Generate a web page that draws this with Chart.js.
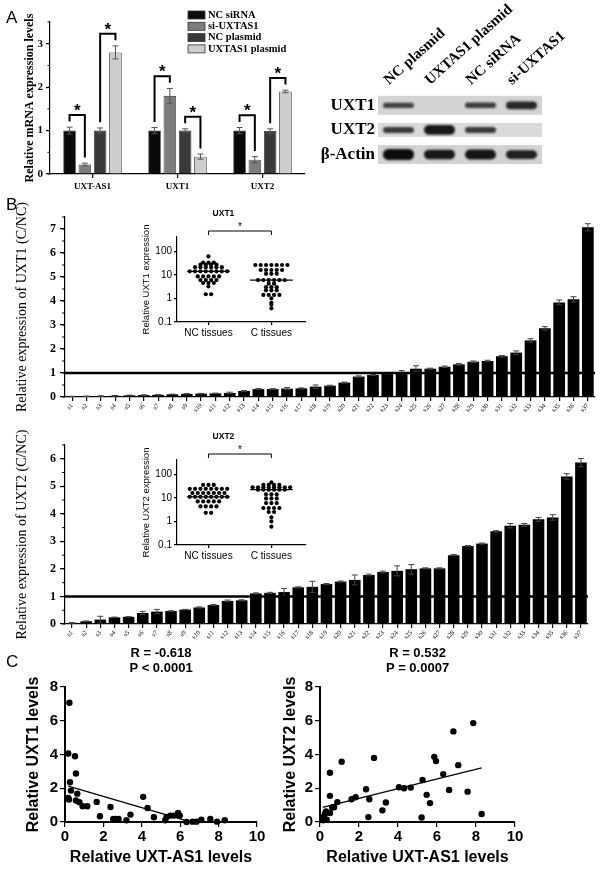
<!DOCTYPE html>
<html>
<head>
<meta charset="utf-8">
<script src="https://cdn.jsdelivr.net/npm/chart.js@4.4.1/dist/chart.umd.min.js"></script>
<style>
  body { margin: 0; background: #fff; }
  #fig { position: relative; width: 600px; height: 869px; overflow: hidden; background: #fff; }
  #fig canvas { position: absolute; }
  .tag { position: absolute; font: 17px "Liberation Sans", Arial, sans-serif; color: #000; }
</style>
</head>
<body>
<div id="fig">
  <canvas id="chartA" width="310" height="200" style="left:0;top:0"></canvas>
  <canvas id="blot" width="300" height="180" style="left:300px;top:0"></canvas>
  <canvas id="ratioUXT1" width="600" height="252" style="left:0;top:178px"></canvas>
  <canvas id="ratioUXT2" width="600" height="265" style="left:0;top:405px"></canvas>
  <canvas id="insetUXT1" width="185" height="135" style="left:130px;top:205px"></canvas>
  <canvas id="insetUXT2" width="185" height="135" style="left:130px;top:428px"></canvas>
  <canvas id="corrUXT1" width="270" height="229" style="left:0;top:640px"></canvas>
  <canvas id="corrUXT2" width="345" height="229" style="left:255px;top:640px"></canvas>
  <div class="tag" style="left:6px;top:8px">A</div>
  <div class="tag" style="left:6px;top:195px">B</div>
  <div class="tag" style="left:6px;top:652px">C</div>
</div>
<script>
// ---- panel A: qPCR after knockdown / overexpression ----
const GENES_A = ['UXT-AS1', 'UXT1', 'UXT2'];
const NC_SIRNA = [1, 1, 1];
const NC_SIRNA_ERR = [0.08, 0.07, 0.07];
const SI_UXTAS1 = [0.22, 1.8, 0.33];
const SI_UXTAS1_ERR = [0.03, 0.17, 0.07];
const NC_PLASMID = [1, 1, 0.99];
const NC_PLASMID_ERR = [0.06, 0.04, 0.05];
const UXTAS1_PLASMID = [2.8, 0.4, 1.9];
const UXTAS1_PLASMID_ERR = [0.15, 0.06, 0.03];

// ---- western blot (relative band strength per lane) ----
const LANES = ['NC plasmid', 'UXTAS1 plasmid', 'NC siRNA', 'si-UXTAS1'];
const BLOT_ROWS = ['UXT1', 'UXT2', 'β-Actin'];
const BAND_UXT1 = [0.35, 0, 0.4, 0.65];
const BAND_UXT2 = [0.45, 0.85, 0.45, 0];
const BAND_ACTIN = [1, 0.85, 0.9, 0.75];

// ---- panel B: C/NC ratio per sample ----
const SAMPLES = ['s1', 's2', 's3', 's4', 's5', 's6', 's7', 's8', 's9', 's10', 's11', 's12', 's13',
  's14', 's15', 's16', 's17', 's18', 's19', 's20', 's21', 's22', 's23', 's24', 's25', 's26',
  's27', 's28', 's29', 's30', 's31', 's32', 's33', 's34', 's35', 's36', 's37'];
const UXT1_RATIO = [0.02, 0.03, 0.04, 0.05, 0.07, 0.08, 0.09, 0.11, 0.13, 0.14, 0.15, 0.17, 0.25,
  0.33, 0.33, 0.35, 0.36, 0.43, 0.47, 0.6, 0.85, 0.92, 0.99, 1.03, 1.18, 1.18, 1.26, 1.36, 1.47,
  1.5, 1.7, 1.85, 2.36, 2.86, 3.94, 4.07, 7.07];
const UXT1_RATIO_ERR = [0.01, 0.01, 0.01, 0.01, 0.01, 0.01, 0.01, 0.01, 0.01, 0.01, 0.01, 0.03, 0.02,
  0.02, 0.02, 0.04, 0.02, 0.07, 0.02, 0.02, 0.03, 0.02, 0.02, 0.07, 0.12, 0.02, 0.03, 0.03, 0.03,
  0.03, 0.03, 0.07, 0.07, 0.07, 0.1, 0.11, 0.15];
const UXT2_RATIO = [0.04, 0.1, 0.16, 0.24, 0.26, 0.4, 0.45, 0.47, 0.52, 0.6, 0.69, 0.84, 0.86,
  1.11, 1.13, 1.16, 1.33, 1.35, 1.45, 1.54, 1.6, 1.78, 1.89, 1.93, 1.99, 2.02, 2.02, 2.5, 2.83,
  2.92, 3.37, 3.57, 3.6, 3.8, 3.87, 5.36, 5.86];
const UXT2_RATIO_ERR = [0.01, 0.01, 0.12, 0.01, 0.01, 0.06, 0.08, 0.01, 0.01, 0.02, 0.02, 0.03, 0.02,
  0.02, 0.02, 0.13, 0.02, 0.2, 0.02, 0.02, 0.18, 0.03, 0.03, 0.18, 0.17, 0.02, 0.02, 0.02, 0.02,
  0.02, 0.02, 0.08, 0.05, 0.07, 0.1, 0.1, 0.15];
const REF_LEVEL = 1;

// ---- panel B insets: tissue expression (log scale) ----
const TISSUES = ['NC tissues', 'C tissues'];
const LOG_TICKS = [0.1, 1, 10, 100];
const NC_UXT1 = [60, 33, 33, 33, 27, 27, 27, 27, 21, 21, 21, 21, 21, 21,
  14, 14, 14, 14, 14, 14, 14, 14, 8.5, 8.5, 8.5, 8.5, 8.5, 6, 6, 6, 6, 4.5, 4.5, 4.5, 3.2, 1.5, 1.5];
const C_UXT1 = [26, 26, 26, 26, 26, 26, 26, 16, 16, 16, 16, 16, 11, 11, 11,
  6, 6, 6, 6, 6, 6, 4.2, 4.2, 3, 3, 3, 2.2, 2.2, 2.2, 1.4, 1.4, 1.4, 1.4, 1, 0.65, 0.55, 0.38];
const NC_UXT2 = [35, 35, 35, 24, 24, 24, 24, 24, 24, 24, 24, 16, 16, 16, 16, 16, 16, 16,
  11, 11, 11, 11, 11, 11, 11, 11, 7, 7, 7, 7, 7, 4.3, 4.3, 4.3, 4.3, 2.3, 2.3];
const C_UXT2 = [45, 35, 35, 35, 35, 28, 28, 28, 28, 28, 28, 28, 28, 22, 22, 22, 22, 22, 22,
  14, 14, 14, 9.4, 9.4, 9.4, 6, 6, 6, 3.7, 3.7, 3.7, 3.7, 2.5, 2.5, 1.5, 1, 0.6];

// ---- panel C: correlation with UXT-AS1 ----
const AS1_VS_UXT1 = [0.23, 0.17, 0.52, 0.57, 0.26, 0.31, 0.64, 0.17, 0.21, 0.57, 0.75, 0.92, 1.16,
  1.65, 1.82, 2.37, 2.51, 2.65, 2.79, 3.2, 3.41, 4.07, 4.3, 4.63, 5.22, 5.29, 5.49, 5.67, 5.89,
  5.98, 6.33, 6.64, 6.85, 7.1, 7.57, 7.92, 8.32];
const UXT1_LEVELS = [7.07, 4.06, 3.9, 2.87, 2.36, 1.86, 1.68, 1.43, 1.33, 1.27, 1.17, 0.93, 0.93,
  1.19, 0.34, 0.89, 0.18, 0.18, 0.18, 0.1, 0.44, 1.49, 0.83, 0.28, 0.1, 0.3, 0.38, 0.38, 0.53,
  0.38, 0.0, 0.02, 0.02, 0.14, 0.18, 0.02, 0.1];
const AS1_VS_UXT2 = [0.14, 0.2, 0.26, 0.17, 0.34, 0.31, 0.51, 0.51, 0.51, 0.63, 0.72, 0.89, 1.11,
  1.62, 1.83, 2.36, 2.48, 2.53, 2.77, 3.2, 3.38, 4.05, 4.31, 4.65, 5.21, 5.26, 5.47, 5.64, 5.86,
  5.95, 6.32, 6.62, 6.84, 7.09, 7.57, 7.86, 8.29];
const UXT2_LEVELS = [0.18, 0.33, 0.49, 0.1, 0.14, 0.63, 0.53, 1.55, 2.92, 0.86, 0.88, 1.18, 3.57,
  1.35, 1.47, 1.94, 0.29, 1.35, 3.8, 0.69, 1.16, 2.06, 2.0, 2.04, 0.27, 2.49, 1.61, 1.12, 3.86,
  3.61, 2.84, 1.9, 5.37, 3.37, 1.8, 5.86, 0.47];
const STATS_UXT1 = ['R = -0.618', 'P < 0.0001'];
const STATS_UXT2 = ['R = 0.532', 'P = 0.0007'];

const SERIF = '"Liberation Serif", "Times New Roman", serif';
const SANS = '"Liberation Sans", Arial, sans-serif';

Chart.defaults.animation = false;
Chart.defaults.responsive = false;
Chart.defaults.color = '#000';
Chart.defaults.plugins.legend.display = false;
Chart.defaults.plugins.tooltip.enabled = false;

// error bars from dataset.errors
const errorBars = {
  id: 'errorBars',
  afterDatasetsDraw(chart, args, opts) {
    const ctx = chart.ctx;
    const y = chart.scales.y;
    chart.data.datasets.forEach((ds, di) => {
      if (!ds.errors) return;
      chart.getDatasetMeta(di).data.forEach((bar, i) => {
        const top = y.getPixelForValue(ds.data[i] + ds.errors[i]);
        const bot = y.getPixelForValue(Math.max(ds.data[i] - ds.errors[i], 0));
        ctx.save();
        ctx.strokeStyle = opts.color;
        ctx.lineWidth = opts.width;
        ctx.beginPath();
        ctx.moveTo(bar.x, top); ctx.lineTo(bar.x, bot);
        ctx.moveTo(bar.x - opts.cap, top); ctx.lineTo(bar.x + opts.cap, top);
        ctx.moveTo(bar.x - opts.cap, bot); ctx.lineTo(bar.x + opts.cap, bot);
        ctx.stroke();
        ctx.restore();
      });
    });
  }
};

// short ticks between the labelled ones
const minorTicks = {
  id: 'minorTicks',
  afterDraw(chart, args, opts) {
    const s = chart.scales.y, ctx = chart.ctx;
    ctx.save();
    ctx.strokeStyle = '#000';
    ctx.lineWidth = opts.width;
    ctx.beginPath();
    for (let v = s.min; v <= s.max + 1e-9; v += opts.step) {
      const p = s.getPixelForValue(v);
      ctx.moveTo(s.right, p); ctx.lineTo(s.right - opts.length, p);
    }
    ctx.stroke();
    ctx.restore();
  }
};

// significance brackets between dataset pairs (panel A)
const sigBrackets = {
  id: 'sigBrackets',
  afterDatasetsDraw(chart, args, opts) {
    const ctx = chart.ctx, y = chart.scales.y;
    ctx.save();
    ctx.strokeStyle = '#000';
    ctx.lineWidth = 2;
    ctx.fillStyle = '#000';
    ctx.font = `bold 17px ${SANS}`;
    ctx.textAlign = 'center';
    ctx.textBaseline = 'alphabetic';
    opts.pairs.forEach(([a, b]) => {
      const da = chart.data.datasets[a], db = chart.data.datasets[b];
      const ma = chart.getDatasetMeta(a), mb = chart.getDatasetMeta(b);
      ma.data.forEach((barA, i) => {
        const barB = mb.data[i];
        const ta = da.data[i] + da.errors[i], tb = db.data[i] + db.errors[i];
        const top = y.getPixelForValue(Math.max(ta, tb) + opts.rise);
        ctx.beginPath();
        ctx.moveTo(barA.x, y.getPixelForValue(ta + opts.gap));
        ctx.lineTo(barA.x, top);
        ctx.lineTo(barB.x, top);
        ctx.lineTo(barB.x, y.getPixelForValue(tb + opts.gap));
        ctx.stroke();
        ctx.fillText('*', (barA.x + barB.x) / 2, top + 1);
      });
    });
    ctx.restore();
  }
};

// legend box list drawn inside panel A
const boxLegend = {
  id: 'boxLegend',
  afterDraw(chart, args, opts) {
    const ctx = chart.ctx;
    ctx.save();
    ctx.font = `bold ${opts.size}px ${SERIF}`;
    ctx.textBaseline = 'middle';
    chart.data.datasets.forEach((ds, i) => {
      const y = opts.y + i * opts.step;
      ctx.fillStyle = ds.backgroundColor;
      ctx.fillRect(opts.x, y - opts.boxH / 2, opts.boxW, opts.boxH);
      ctx.strokeStyle = '#333';
      ctx.lineWidth = 0.8;
      ctx.strokeRect(opts.x, y - opts.boxH / 2, opts.boxW, opts.boxH);
      ctx.fillStyle = '#000';
      ctx.fillText(ds.label, opts.x + opts.boxW + 3, y);
    });
    ctx.restore();
  }
};

// horizontal reference line (C/NC = 1)
const refLine = {
  id: 'refLine',
  afterDatasetsDraw(chart, args, opts) {
    const {ctx, chartArea: a} = chart;
    const p = chart.scales.y.getPixelForValue(opts.value);
    ctx.save();
    ctx.strokeStyle = '#000';
    ctx.lineWidth = opts.width;
    ctx.beginPath();
    ctx.moveTo(a.left, p); ctx.lineTo(a.right, p);
    ctx.stroke();
    ctx.restore();
  }
};

// title, bracket and star above the insets
const insetMarks = {
  id: 'insetMarks',
  afterDraw(chart, args, opts) {
    const {ctx, chartArea: a, scales: {x}} = chart;
    const x1 = x.getPixelForValue(1), x2 = x.getPixelForValue(2);
    const yb = a.top - opts.rise;
    ctx.save();
    ctx.strokeStyle = '#000';
    ctx.lineWidth = 1;
    ctx.beginPath();
    ctx.moveTo(x1, yb + 4); ctx.lineTo(x1, yb); ctx.lineTo(x2, yb); ctx.lineTo(x2, yb + 4);
    ctx.stroke();
    ctx.fillStyle = '#000';
    ctx.textAlign = 'center';
    ctx.font = `10px ${SANS}`;
    ctx.fillText('*', (x1 + x2) / 2, yb - 1);
    ctx.font = `bold 8.5px ${SANS}`;
    ctx.fillText(opts.title, x1 + opts.titleShift, a.top - opts.titleRise);
    ctx.restore();
  }
};

// R / P text over the scatter plots
const statText = {
  id: 'statText',
  afterDraw(chart, args, opts) {
    const {ctx, chartArea: a} = chart;
    ctx.save();
    ctx.fillStyle = '#000';
    ctx.font = `bold 13px ${SANS}`;
    ctx.textAlign = 'center';
    ctx.textBaseline = 'middle';
    opts.lines.forEach((t, i) => {
      ctx.fillText(t, (a.left + a.right) / 2, a.top - opts.rise + i * 15);
    });
    ctx.restore();
  }
};

// western blot bands on a lane x row grid
const blotBands = {
  id: 'blotBands',
  beforeDatasetsDraw(chart, args, opts) {
    const {ctx, chartArea: a, scales: {x, y}} = chart;
    opts.rows.forEach((row, r) => {
      const cy = y.getPixelForValue(r);
      const h = opts.rowHeights[r];
      ctx.save();
      ctx.fillStyle = opts.membrane[r];
      ctx.fillRect(a.left, cy - h / 2, a.right - a.left, h);
      ctx.beginPath();
      ctx.rect(a.left, cy - h / 2, a.right - a.left, h);
      ctx.clip();
      ctx.filter = 'blur(1.2px)';
      row.forEach((v, i) => {
        if (!v) return;
        const cx = x.getPixelForValue(i);
        const bh = 2 + v * opts.bandHeight;
        ctx.fillStyle = `rgba(12,12,12,${0.6 + 0.4 * v})`;
        ctx.beginPath();
        ctx.roundRect(cx - opts.bandWidth / 2, cy - bh / 2, opts.bandWidth, bh, bh / 2);
        ctx.fill();
      });
      ctx.restore();
    });
  }
};

function swarm(values, center, spacing) {
  const rows = new Map();
  values.forEach(v => rows.set(v, (rows.get(v) || 0) + 1));
  const points = [];
  rows.forEach((n, v) => {
    for (let k = 0; k < n; k++) points.push({ x: center + (k - (n - 1) / 2) * spacing, y: v });
  });
  return points;
}

function median(values) {
  const s = [...values].sort((p, q) => p - q);
  const m = s.length >> 1;
  return s.length % 2 ? s[m] : (s[m - 1] + s[m]) / 2;
}

function linFit(xs, ys) {
  const n = xs.length;
  const mx = xs.reduce((s, v) => s + v, 0) / n, my = ys.reduce((s, v) => s + v, 0) / n;
  let sxy = 0, sxx = 0;
  xs.forEach((v, i) => { sxy += (v - mx) * (ys[i] - my); sxx += (v - mx) * (v - mx); });
  const m = sxy / sxx;
  return { m, b: my - m * mx };
}

const axisLine = { display: true, color: '#000', width: 1.2 };
const tickMarks = (len) => ({ display: true, drawOnChartArea: false, drawTicks: true, tickLength: len, color: '#000', lineWidth: 1.2 });

// ---------- panel A ----------
new Chart(document.getElementById('chartA'), {
  type: 'bar',
  data: {
    labels: GENES_A,
    datasets: [
      { label: 'NC siRNA', data: NC_SIRNA, errors: NC_SIRNA_ERR, backgroundColor: '#0a0a0a' },
      { label: 'si-UXTAS1', data: SI_UXTAS1, errors: SI_UXTAS1_ERR, backgroundColor: '#7d7d7d' },
      { label: 'NC plasmid', data: NC_PLASMID, errors: NC_PLASMID_ERR, backgroundColor: '#393939' },
      { label: 'UXTAS1 plasmid', data: UXTAS1_PLASMID, errors: UXTAS1_PLASMID_ERR, backgroundColor: '#cdcdcd' },
    ].map(d => Object.assign(d, { borderColor: '#2a2a2a', borderWidth: 0.8, categoryPercentage: 0.72, barPercentage: 0.82 })),
  },
  options: {
    layout: { padding: { left: 0, right: 5, top: 22, bottom: 0 } },
    scales: {
      x: {
        offset: true,
        grid: Object.assign(tickMarks(4), { offset: false }),
        border: axisLine,
        ticks: { font: { family: SERIF, size: 9, weight: 'bold' }, padding: 3, maxRotation: 0 },
        afterFit: s => { s.height = 26; },
      },
      y: {
        min: 0, max: 3.5,
        grid: tickMarks(4),
        border: axisLine,
        ticks: { stepSize: 1, includeBounds: false, font: { family: SERIF, size: 11, weight: 'bold' }, padding: 3 },
        title: { display: true, text: 'Relative mRNA expression levels', font: { family: SERIF, size: 12, weight: 'bold' }, padding: { top: 23, bottom: 0 } },
        afterFit: s => { s.width = 50; },
      },
    },
    plugins: {
      errorBars: { color: '#555', width: 1, cap: 3 },
      minorTicks: { step: 0.5, length: 2.5, width: 1 },
      sigBrackets: { pairs: [[0, 1], [2, 3]], rise: 0.28, gap: 0.13 },
      boxLegend: { x: 188, y: 15, step: 11.3, boxW: 17, boxH: 8, size: 10.5 },
    },
  },
  plugins: [errorBars, minorTicks, sigBrackets, boxLegend],
});

// ---------- western blot ----------
new Chart(document.getElementById('blot'), {
  type: 'scatter',
  data: { datasets: [{ data: [] }] },
  options: {
    layout: { padding: { left: 0, right: 58, top: 0, bottom: 11 } },
    scales: {
      x: {
        type: 'category', labels: LANES, position: 'top', offset: true,
        grid: { display: false, drawTicks: false }, border: { display: false },
        ticks: { minRotation: 42, maxRotation: 42, autoSkip: false, font: { family: SERIF, size: 15, weight: 'bold' }, padding: 4 },
        afterFit: s => { s.height = 93; },
      },
      y: {
        type: 'category', labels: BLOT_ROWS, offset: true,
        grid: { display: false, drawTicks: false }, border: { display: false },
        ticks: { font: { family: SERIF, size: 17, weight: 'bold' }, padding: 3 },
        afterFit: s => { s.width = 78; },
      },
    },
    plugins: {
      blotBands: {
        rows: [BAND_UXT1, BAND_UXT2, BAND_ACTIN],
        rowHeights: [19, 14, 19],
        membrane: ['#d4d4d4', '#dadada', '#d2d2d2'],
        bandWidth: 31, bandHeight: 9,
      },
    },
  },
  plugins: [blotBands],
});

// ---------- panel B ratio bars ----------
function ratioChart(id, values, errors, gene, yMax, pad, xHeight) {
  return new Chart(document.getElementById(id), {
    type: 'bar',
    data: {
      labels: SAMPLES,
      datasets: [{ data: values, errors, backgroundColor: '#000', categoryPercentage: 1, barPercentage: 0.82 }],
    },
    options: {
      layout: { padding: pad },
      scales: {
        x: {
          offset: true,
          grid: Object.assign(tickMarks(4), { offset: false }),
          border: axisLine,
          ticks: { minRotation: 45, maxRotation: 45, autoSkip: false, font: { family: SERIF, size: 6.5 }, padding: 1 },
          afterFit: s => { s.height = xHeight; },
        },
        y: {
          min: 0, max: yMax,
          grid: tickMarks(5),
          border: axisLine,
          ticks: { stepSize: 1, includeBounds: false, font: { family: SERIF, size: 12, weight: 'bold' }, padding: 4 },
          title: { display: true, text: `Relative expression of ${gene} (C/NC)`, font: { family: SERIF, size: 14 }, padding: { top: 14, bottom: 0 } },
          afterFit: s => { s.width = 65; },
        },
      },
      plugins: {
        errorBars: { color: '#444', width: 1, cap: 3 },
        minorTicks: { step: 0.5, length: 3, width: 1 },
        refLine: { value: REF_LEVEL, width: 2.6 },
      },
    },
    plugins: [errorBars, minorTicks, refLine],
  });
}
ratioChart('ratioUXT1', UXT1_RATIO, UXT1_RATIO_ERR, 'UXT1', 7.5, { left: 0, right: 5, top: 39, bottom: 0 }, 33);
ratioChart('ratioUXT2', UXT2_RATIO, UXT2_RATIO_ERR, 'UXT2', 6.5, { left: 0, right: 12, top: 40, bottom: 0 }, 46);

// ---------- panel B insets ----------
function insetChart(id, ncVals, cVals, gene) {
  const spread = 0.085, half = 0.34;
  const medNC = median(ncVals), medC = median(cVals);
  const dots = { pointRadius: 2.1, pointBackgroundColor: '#000', pointBorderWidth: 0, clip: false };
  const medLine = { showLine: true, borderColor: '#000', borderWidth: 1.2, pointRadius: 0 };
  return new Chart(document.getElementById(id), {
    type: 'scatter',
    data: {
      datasets: [
        Object.assign({ data: swarm(ncVals, 1, spread) }, dots),
        Object.assign({ data: swarm(cVals, 2, spread) }, dots),
        Object.assign({ data: [{ x: 1 - half, y: medNC }, { x: 1 + half, y: medNC }] }, medLine),
        Object.assign({ data: [{ x: 2 - half, y: medC }, { x: 2 + half, y: medC }] }, medLine),
      ],
    },
    options: {
      layout: { padding: { left: 0, right: 9, top: 32, bottom: 0 } },
      scales: {
        x: {
          type: 'linear', min: 0.5, max: 2.55,
          grid: tickMarks(3), border: axisLine,
          afterBuildTicks: s => { s.ticks = TISSUES.map((t, i) => ({ value: i + 1 })); },
          ticks: { callback: v => TISSUES[v - 1], font: { family: SANS, size: 10 }, padding: 2, maxRotation: 0 },
          afterFit: s => { s.height = 18; },
        },
        y: {
          type: 'logarithmic', min: 0.1, max: 400,
          grid: tickMarks(3), border: axisLine,
          afterBuildTicks: s => { s.ticks = LOG_TICKS.map(v => ({ value: v })); },
          ticks: { callback: v => String(v), font: { family: SANS, size: 10 }, padding: 2 },
          title: { display: true, text: `Relative ${gene} expression`, font: { family: SANS, size: 9.5 }, padding: { top: 11, bottom: 0 } },
          afterFit: s => { s.width = 47; },
        },
      },
      plugins: {
        insetMarks: { title: gene, rise: 6, titleShift: 15, titleRise: 21 },
      },
    },
    plugins: [insetMarks],
  });
}
insetChart('insetUXT1', NC_UXT1, C_UXT1, 'UXT1');
insetChart('insetUXT2', NC_UXT2, C_UXT2, 'UXT2');

// ---------- panel C scatter plots ----------
function corrChart(id, xs, ys, gene, stats, pad, titlePad) {
  const fit = linFit(xs, ys);
  const x0 = Math.min(...xs), x1 = Math.max(...xs);
  const tickFont = { family: SANS, size: 15, weight: 'bold' };
  return new Chart(document.getElementById(id), {
    type: 'scatter',
    data: {
      datasets: [
        { data: xs.map((v, i) => ({ x: v, y: ys[i] })), pointRadius: 3.2, pointBackgroundColor: '#000', pointBorderWidth: 0, clip: false },
        { data: [{ x: x0, y: fit.m * x0 + fit.b }, { x: x1, y: fit.m * x1 + fit.b }], showLine: true, borderColor: '#000', borderWidth: 1.3, pointRadius: 0 },
      ],
    },
    options: {
      layout: { padding: pad },
      scales: {
        x: {
          min: 0, max: 10,
          grid: tickMarks(5), border: { display: true, color: '#000', width: 2 },
          ticks: { stepSize: 2, font: tickFont, padding: 1, maxRotation: 0 },
          title: { display: true, text: 'Relative UXT-AS1 levels', font: { family: SANS, size: 16, weight: 'bold' }, padding: { top: 0, bottom: 2 } },
          afterFit: s => { s.height = 47; },
        },
        y: {
          min: 0, max: 8,
          grid: tickMarks(5), border: { display: true, color: '#000', width: 2 },
          ticks: { stepSize: 2, font: tickFont, padding: 2 },
          title: { display: true, text: `Relative ${gene} levels`, font: { family: SANS, size: 16, weight: 'bold' }, padding: { top: titlePad, bottom: 0 } },
          afterFit: s => { s.width = 65; },
        },
      },
      plugins: {
        statText: { lines: stats, rise: 34 },
      },
    },
    plugins: [statText],
  });
}
corrChart('corrUXT1', AS1_VS_UXT1, UXT1_LEVELS, 'UXT1', STATS_UXT1, { left: 0, right: 13, top: 47, bottom: 0 }, 24);
corrChart('corrUXT2', AS1_VS_UXT2, UXT2_LEVELS, 'UXT2', STATS_UXT2, { left: 0, right: 85, top: 47, bottom: 0 }, 26);
</script>
</body>
</html>
